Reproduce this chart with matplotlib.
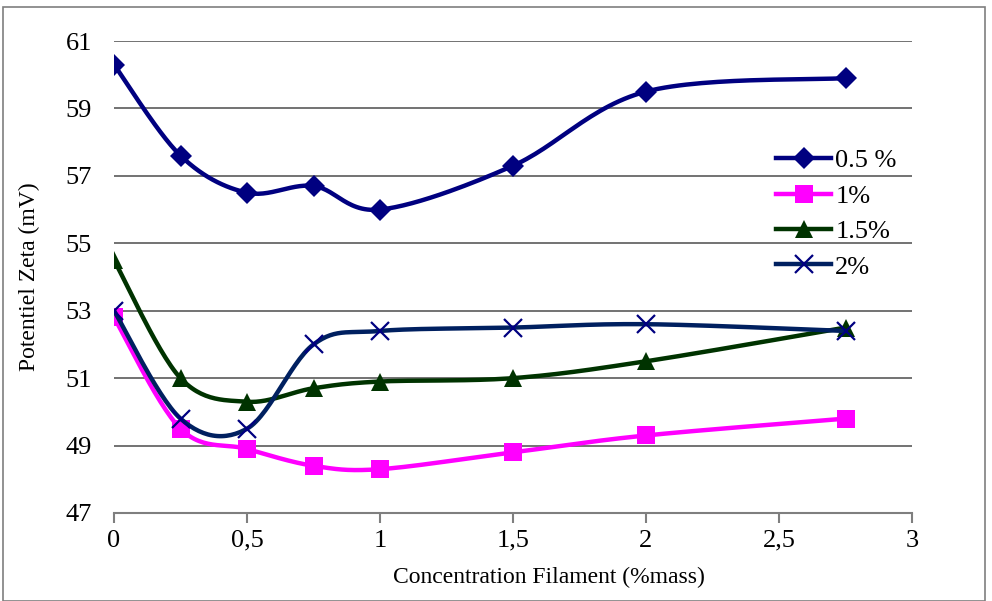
import numpy as np
import matplotlib
matplotlib.use("Agg")
import matplotlib.pyplot as plt
from matplotlib.lines import Line2D

x_vals = [0, 0.25, 0.5, 0.75, 1, 1.5, 2, 2.75]
s05 = [60.3, 57.6, 56.5, 56.7, 56.0, 57.3, 59.5, 59.9]
s1 = [52.8, 49.5, 48.9, 48.4, 48.3, 48.8, 49.3, 49.8]
s15 = [54.5, 51.0, 50.3, 50.7, 50.9, 51.0, 51.5, 52.5]
s2 = [53.0, 49.8, 49.5, 52.0, 52.4, 52.5, 52.6, 52.4]
labels = ["0.5 %", "1%", "1.5%", "2%"]
xticks = [0, 0.5, 1, 1.5, 2, 2.5, 3]
xtick_labels = ["0", "0,5", "1", "1,5", "2", "2,5", "3"]
yticks = [47, 49, 51, 53, 55, 57, 59, 61]

plt.rcParams['font.family'] = ['Liberation Serif', 'DejaVu Serif']

fig = plt.figure(figsize=(9.92, 6.01), dpi=100)
W, H = 992, 601
ax = fig.add_axes([114 / W, 1 - 513 / H, (912 - 114) / W, (513 - 41) / H])
ax.set_xlim(0, 3)
ax.set_ylim(47, 61)


def smooth(xs, ys, n=30):
    xs = np.asarray(xs, float)
    ys = np.asarray(ys, float)
    P = np.column_stack([xs, ys])
    verts = [P[0]]
    m = len(P)
    for i in range(m - 1):
        p0 = P[i - 1] if i > 0 else P[i]
        p1 = P[i]
        p2 = P[i + 1]
        p3 = P[i + 2] if i + 2 < m else P[i + 1]
        c1 = p1 + (p2 - p0) / 6.0
        c2 = p2 - (p3 - p1) / 6.0
        t = np.linspace(0, 1, n)[1:, None]
        seg = ((1 - t) ** 3) * p1 + 3 * ((1 - t) ** 2) * t * c1 + 3 * (1 - t) * t ** 2 * c2 + t ** 3 * p2
        verts.extend(seg)
    v = np.array(verts)
    return v[:, 0], v[:, 1]


series = [
    (s05, "#000080", "#000080", "D", 11),
    (s1, "#FF00FF", "#FF00FF", "s", 13),
    (s15, "#003300", "#003300", "^", 13),
    (s2, "#002060", "#000080", "x", 13),
]

for i, (ys, lc, mc, mk, ms) in enumerate(series):
    sx, sy = smooth(x_vals, ys)
    ax.plot(sx, sy, color=lc, lw=3.2, solid_capstyle='round', zorder=3 + i)
    if mk == "x":
        ax.plot(x_vals, ys, ls='none', marker=mk, ms=ms, mew=1.6, color=mc, zorder=3 + i)
    else:
        ax.plot(x_vals, ys, ls='none', marker=mk, ms=ms, mew=0, color=mc, zorder=3 + i)

ax.set_yticks(yticks)
ax.yaxis.grid(True, color='#5a5a5a', lw=1.2)
ax.set_axisbelow(True)
for s in ['top', 'right', 'left']:
    ax.spines[s].set_visible(False)
ax.spines['bottom'].set_color('#7f7f7f')
ax.spines['bottom'].set_linewidth(1.5)
ax.set_xticks(xticks)
ax.set_xticklabels(xtick_labels)
ax.tick_params(axis='x', direction='out', length=7, width=1.5, color='#7f7f7f', labelsize=19, pad=5)
ax.tick_params(axis='y', length=0, labelsize=19, pad=16)
ax.set_xlabel("Concentration Filament (%mass)", fontsize=17)
ax.xaxis.set_label_coords((549 - 114) / 798, (513 - 567) / 472)
ax.set_ylabel("Potentiel Zeta (mV)", fontsize=17)
ax.yaxis.set_label_coords((40 - 114) / 798, 0.5)

handles = []
for ys, lc, mc, mk, ms in series:
    if mk == "x":
        handles.append(Line2D([], [], color=lc, lw=3.2, marker=mk, ms=ms, mew=1.6, mec=mc))
    else:
        handles.append(Line2D([], [], color=lc, lw=3.2, marker=mk, ms=ms, mew=0, mfc=mc))
leg = ax.legend(handles, labels, loc='upper left', bbox_to_anchor=(776 / W, 1 - 149 / H),
                bbox_transform=fig.transFigure, frameon=False, fontsize=19,
                handlelength=2.1, handletextpad=0.15, labelspacing=0.45, borderpad=0,
                borderaxespad=0)

fig.patches.append(plt.Rectangle((3 / W, 0), (982) / W, 1 - 7 / H, transform=fig.transFigure,
                                 fill=False, edgecolor='#7f7f7f', lw=1.2))
fig.savefig("out.png", dpi=100)
